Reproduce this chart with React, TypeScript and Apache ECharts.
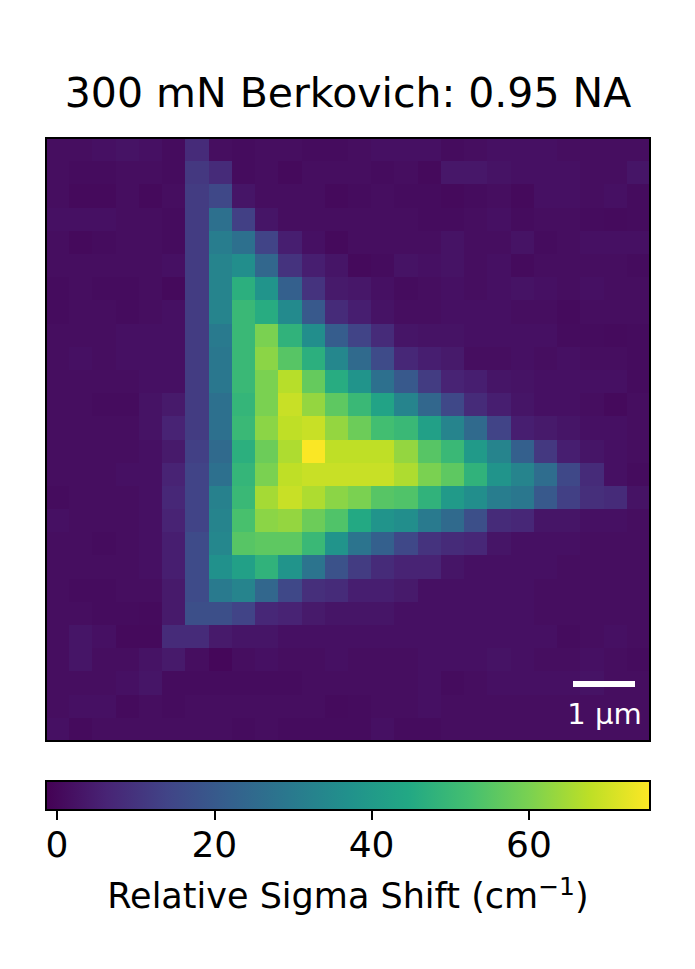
import React, { useEffect, useRef } from "react";
import * as echarts from "echarts";

const FONT = "DejaVu Sans";
const titleText = "300 mN Berkovich: 0.95 NA";
const colorbarTicks = [0, 20, 40, 60];
const colorMin = -1.4;
const colorMax = 75.4;
const viridis = ["#440154", "#482475", "#414487", "#355f8d", "#2a788e", "#21918c", "#22a884", "#44bf70", "#7ad151", "#bddf26", "#fde725"];

const row00 = [1.5,1.5,2,2.5,2,1,8,1.5,1,1.5,1.5,1,1,1.5,2,2,2,1,1.5,2,2,2,1.5,1.5,1.5,1.5];
const row01 = [1.5,1,1,1.5,1.5,1,11,8,1,1.5,0.5,1.5,1.5,1.5,1,1.5,0.5,3.5,3.5,2.5,2,2,2,1.5,1.5,3];
const row02 = [1.5,0.5,0.5,1.5,0.5,1.5,12,15,3,1.5,1.5,1.5,0.5,1,1.5,1,1,0.5,1,1.5,0.5,2,2,1.5,2,1];
const row03 = [2,2,2,1.5,1.5,1,12,27,13,3,1.5,1.5,1.5,1.5,1.5,1.5,1,1,1.5,2,1,1.5,1.5,1,0.8,1];
const row04 = [1.5,0.5,1,1.5,1.5,1,12,31,27,14,5,2,0.5,1.5,1.5,1.5,1.5,2.5,1.5,1.5,2.5,1,1.5,2,2,2];
const row05 = [1.5,1.5,1.5,1.5,1.5,2,12,33,36,24,10,5,3,0.5,1,2.5,2,2.5,1.5,2,0.8,1.5,1.5,1.5,1.5,1];
const row06 = [1,1.5,1,1,1.5,0.5,12,33,47,38,22,10,4,3.5,2,1,1.5,2,1.5,2,2.5,2,1.5,2,1.5,1.5];
const row07 = [1,1.5,1.5,1,1.5,2,12,33,50,46,35,20,8,5,2.5,1.5,1.5,2,2,2,1.5,1.5,0.8,1.5,1.5,1.5];
const row08 = [1.5,1.5,1.5,2,2,2,12,30,50,60,48,36,21,14,8,3,2.5,2.5,2,2,2,2,1,1,0.8,1];
const row09 = [1.5,2,1.5,2,2,2,12,29,50,62,55,47,34,25,16,7,5,4,1.5,1.5,2,1.5,2,1.5,1.5,1];
const row10 = [1.5,1.5,1.5,1.5,2,2,12,29,50,60,67,57,46,38,27,20,12,6,5,3,2.5,2,2,2,2,1];
const row11 = [1.5,1.5,1,1,2.5,4,12,27,49,60,69,63,56,50,43,33,24,15,8,5,3,2,2,1.5,0.5,1.5];
const row12 = [1.5,1.5,1.5,1.5,2.5,6,12,27,50,62,68,69,63,58,52,50,42,33,25,14,5,4,3,2,2,1.5];
const row13 = [1.5,1.5,1.5,1.5,2,4,13,25,47,58,66,75,68,68,68,63,55,50,40,33,22,11,5,3,2,1.5];
const row14 = [1.5,1.5,1.5,2,2,6,14,27,49,60,68,69,69,69,69,66,60,56,48,38,33,26,15,8,2,1];
const row15 = [1,1.5,1.5,1.5,2,7,14,32,50,65,69,66,62,60,55,54,48,40,36,31,29,20,13,9,8,2.5];
const row16 = [2,1.5,1.5,1.5,2,6,14,33,53,62,63,58,54,45,38,36,30,25,17,8,7,3,3,2,2,1.5];
const row17 = [1.5,1.5,1,1.5,2,5,16,34,55,56,56,50,38,28,22,15,10,8,7,3,2,2,2,1.5,1.5,1.5];
const row18 = [1.5,1.5,1.5,1.5,2,5,16,37,42,48,38,28,18,12,8,6,6,3,2,2,2,2,1.5,1.5,1.5,1.5];
const row19 = [1.5,1,1,1.5,1.5,4,16,30,33,24,15,9,8,5,5,4,2,2,2,2,2,1.5,1.5,1.5,1.5,1.5];
const row20 = [1.5,1.5,1,1,0.8,4,17,17,14,7,6,4,3,3,3,2,2,2,2,2,2,1.5,1.5,1.5,1.5,1.5];
const row21 = [1.5,3,2,0.5,0.5,8,8,4,3,3,2,2,2,2,2,2,2,2,2,2,2,2,1,1.5,2,1.5];
const row22 = [1.5,3,1.5,1.5,2.5,4,1.5,0,1.5,2,1.5,1.5,2,1.5,1.5,1.5,2,2,2,2.5,2,1.5,1.5,2,1.5,1];
const row23 = [1.5,1.5,1.5,2,3,1,1,1,1,1,1,1.5,1.5,1.5,1.5,1.5,2,1,1.5,2,2,2,2,2.5,1.5,1.5];
const row24 = [1.5,2,2,0.8,1.5,1,1.5,1.5,1.5,1.5,1.5,1.5,0.8,1,1.5,1.5,2,1.5,1.5,1.5,1.5,1.5,1.5,1.5,1.5,1.5];
const row25 = [2,0.8,1.5,1.5,1.5,1.5,1.5,1.5,1,1.5,1,1,1,1,2,1,1,1.5,1.5,1.5,1.5,1.5,1.5,1.5,1.5,1.5];

const rows = [row00,row01,row02,row03,row04,row05,row06,row07,row08,row09,row10,row11,row12,row13,row14,row15,row16,row17,row18,row19,row20,row21,row22,row23,row24,row25];
const cats = rows.map((_, i) => String(i));

export default function App() {
  const ref = useRef<HTMLDivElement>(null);
  useEffect(() => {
    const chart = echarts.init(ref.current!, null, { renderer: "svg" });
    const cells: number[][] = [];
    rows.forEach((row, r) => row.forEach((v, c) => cells.push([c, r, v])));
    const stops = viridis.map((color, i) => ({ offset: i / (viridis.length - 1), color }));
    chart.setOption({
      animation: false,
      backgroundColor: "#fff",
      title: {
        text: titleText,
        left: 343,
        textAlign: "center",
        top: 67,
        textStyle: { fontFamily: FONT, fontSize: 41, fontWeight: "normal", color: "#000" },
      },
      grid: [
        { left: 46, top: 138, width: 604, height: 603, show: true, borderColor: "#000", borderWidth: 2, backgroundColor: "transparent", z: 10 },
        { left: 46, top: 781, width: 604, height: 29, show: true, borderColor: "#000", borderWidth: 2, backgroundColor: "transparent", z: 10 },
      ],
      xAxis: [
        { type: "category", gridIndex: 0, data: cats, show: false },
        {
          type: "value",
          gridIndex: 1,
          min: colorMin,
          max: colorMax,
          splitLine: { show: false },
          axisLine: { show: false },
          axisTick: { show: true, customValues: colorbarTicks, length: 10, lineStyle: { color: "#000", width: 2 } },
          axisLabel: {
            show: true,
            customValues: colorbarTicks,
            fontFamily: FONT,
            fontSize: 36,
            color: "#000",
            margin: 16,
            hideOverlap: false,
            showMinLabel: true,
            showMaxLabel: true,
          },
          name: "Relative Sigma Shift (cm{sup|−1})",
          nameLocation: "middle",
          nameGap: 64,
          nameTextStyle: {
            fontFamily: FONT,
            fontSize: 35,
            color: "#000",
            rich: { sup: { fontFamily: FONT, fontSize: 25, color: "#000", padding: [0, 0, 18, 0] } },
          },
        },
      ],
      yAxis: [
        { type: "category", gridIndex: 0, data: cats, inverse: true, show: false },
        { type: "value", gridIndex: 1, min: 0, max: 1, show: false },
      ],
      visualMap: {
        show: false,
        seriesIndex: 0,
        dimension: 2,
        min: colorMin,
        max: colorMax,
        inRange: { color: viridis },
      },
      series: [
        {
          type: "custom",
          xAxisIndex: 0,
          yAxisIndex: 0,
          data: cells,
          encode: { x: 0, y: 1 },
          renderItem: (_: unknown, api: any) => {
            const center = api.coord([api.value(0), api.value(1)]);
            const size = api.size([1, 1]);
            const x0 = Math.round(center[0] - size[0] / 2);
            const x1 = Math.round(center[0] + size[0] / 2);
            const y0 = Math.round(center[1] - size[1] / 2);
            const y1 = Math.round(center[1] + size[1] / 2);
            return {
              type: "rect",
              shape: { x: x0, y: y0, width: x1 - x0, height: y1 - y0 },
              style: { fill: api.visual("color") },
            };
          },
        },
        {
          type: "custom",
          xAxisIndex: 1,
          yAxisIndex: 1,
          data: [[colorMin, colorMax]],
          renderItem: (_: unknown, api: any) => {
            const a = api.coord([api.value(0), 0]);
            const b = api.coord([api.value(1), 1]);
            return {
              type: "rect",
              shape: { x: a[0], y: b[1], width: b[0] - a[0], height: a[1] - b[1] },
              style: { fill: new echarts.graphic.LinearGradient(0, 0, 1, 0, stops) },
            };
          },
        },
      ],
      graphic: [
        { type: "rect", z: 20, shape: { x: 573, y: 681, width: 62, height: 6 }, style: { fill: "#fff" } },
        {
          type: "text",
          z: 20,
          x: 604.5,
          y: 714,
          style: { text: "1 µm", fontFamily: FONT, fontSize: 29, fill: "#fff", align: "center", verticalAlign: "middle" },
        },
      ],
    });
    return () => chart.dispose();
  }, []);
  return <div ref={ref} style={{ position: "fixed", left: 0, top: 0, width: 695, height: 969 }} />;
}
